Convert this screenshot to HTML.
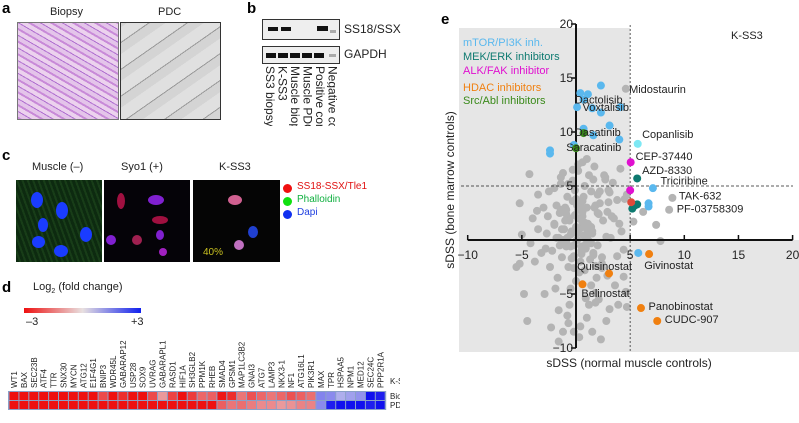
<!DOCTYPE html>
<html><head><meta charset="utf-8"><style>
body{margin:0;width:799px;height:423px;background:#fff;overflow:hidden;font-family:"Liberation Sans",sans-serif;position:relative}
.abs{position:absolute}
.lbl{position:absolute;font-weight:bold;font-size:15px}
.t{position:absolute;font-size:11px;color:#222}
</style></head><body>
<div class="lbl" style="left:2px;top:0px">a</div>
<div class="t" style="left:50px;top:6px">Biopsy</div>
<div class="t" style="left:158px;top:6px">PDC</div>
<div class="abs" style="left:17px;top:22px;width:100px;height:96px;border:1px solid #777;background:repeating-linear-gradient(30deg,#c88ad8 0 2px,#e4c4ea 2px 6px,#b070d0 6px 7px,#ecd2ee 7px 11px)"></div>
<div class="abs" style="left:120px;top:22px;width:99px;height:96px;border:1px solid #333;background:repeating-linear-gradient(-35deg,#d4d4d4 0 9px,#999 9px 10px,#e0e0e0 10px 22px)"></div>
<div class="lbl" style="left:247px;top:0px">b</div>
<div class="abs" style="left:262px;top:19px;width:76px;height:19px;border:1px solid #333;background:#eee">
<div style="position:absolute;left:5px;top:7px;width:10px;height:4px;background:#111"></div>
<div style="position:absolute;left:18px;top:7px;width:10px;height:4px;background:#111"></div>
<div style="position:absolute;left:54px;top:6px;width:11px;height:5px;background:#111"></div>
<div style="position:absolute;left:67px;top:10px;width:6px;height:3px;background:#aaa"></div></div>
<div class="abs" style="left:262px;top:46px;width:76px;height:16px;border:1px solid #333;background:#eee">
<div style="position:absolute;left:3px;top:6px;width:60px;height:5px;background:repeating-linear-gradient(90deg,#111 0 10px,#eee 10px 12px)"></div>
<div style="position:absolute;left:66px;top:7px;width:7px;height:3px;background:#aaa"></div></div>
<div class="t" style="left:344px;top:22px;font-size:12px">SS18/SSX</div>
<div class="t" style="left:344px;top:47px;font-size:12px">GAPDH</div>
<div id="blanes"></div>
<div class="lbl" style="left:2px;top:147px">c</div>
<div class="t" style="left:32px;top:161px">Muscle (–)</div>
<div class="t" style="left:121px;top:161px">Syo1 (+)</div>
<div class="t" style="left:219px;top:161px">K-SS3</div>
<div class="abs" style="left:16px;top:180px;width:86px;height:82px;background:repeating-linear-gradient(70deg,#0d2a10 0 3px,#183d18 3px 5px)">
<div style="position:absolute;left:40px;top:22px;width:12px;height:17px;border-radius:50%;background:#1a3cff"></div>
<div style="position:absolute;left:15px;top:12px;width:12px;height:16px;border-radius:50%;background:#1a3cff"></div>
<div style="position:absolute;left:22px;top:38px;width:10px;height:14px;border-radius:50%;background:#1a3cff"></div>
<div style="position:absolute;left:64px;top:47px;width:12px;height:15px;border-radius:50%;background:#1a3cff"></div>
<div style="position:absolute;left:16px;top:56px;width:13px;height:12px;border-radius:50%;background:#1a3cff"></div>
<div style="position:absolute;left:38px;top:65px;width:14px;height:12px;border-radius:50%;background:#1a3cff"></div></div>
<div class="abs" style="left:104px;top:180px;width:86px;height:82px;background:#050308">
<div style="position:absolute;left:13px;top:13px;width:8px;height:16px;border-radius:50%;background:#a01040"></div>
<div style="position:absolute;left:44px;top:15px;width:16px;height:10px;border-radius:50%;background:#8020d0"></div>
<div style="position:absolute;left:48px;top:36px;width:16px;height:8px;border-radius:50%;background:#a01040"></div>
<div style="position:absolute;left:2px;top:55px;width:10px;height:10px;border-radius:50%;background:#8020d0"></div>
<div style="position:absolute;left:28px;top:55px;width:10px;height:10px;border-radius:50%;background:#a02050"></div>
<div style="position:absolute;left:52px;top:50px;width:8px;height:10px;border-radius:50%;background:#8020d0"></div>
<div style="position:absolute;left:55px;top:68px;width:8px;height:8px;border-radius:50%;background:#a020c0"></div></div>
<div class="abs" style="left:193px;top:180px;width:87px;height:82px;background:#050505">
<div style="position:absolute;left:35px;top:15px;width:14px;height:10px;border-radius:50%;background:#d06090"></div>
<div style="position:absolute;left:55px;top:46px;width:10px;height:12px;border-radius:50%;background:#2040d0"></div>
<div style="position:absolute;left:41px;top:60px;width:10px;height:10px;border-radius:50%;background:#c070c0"></div>
<div style="position:absolute;left:10px;top:67px;font-size:10px;color:#c8c020">40%</div></div>
<div class="abs" style="left:283px;top:184px;width:9px;height:9px;border-radius:50%;background:#f01010"></div>
<div class="t" style="left:297px;top:181px;color:#e01010;font-size:10px">SS18-SSX/Tle1</div>
<div class="abs" style="left:283px;top:197px;width:9px;height:9px;border-radius:50%;background:#10e010"></div>
<div class="t" style="left:297px;top:194px;color:#10b040;font-size:10px">Phalloidin</div>
<div class="abs" style="left:283px;top:210px;width:9px;height:9px;border-radius:50%;background:#1030f0"></div>
<div class="t" style="left:297px;top:207px;color:#2040e0;font-size:10px">Dapi</div>
<div class="lbl" style="left:2px;top:279px">d</div>
<div class="t" style="left:33px;top:281px;font-size:11px">Log<sub style="font-size:7px">2</sub> (fold change)</div>
<div class="abs" style="left:24px;top:308px;width:117px;height:5px;background:linear-gradient(90deg,#ee1010,#e8e0e0,#1020ee)"></div>
<div class="t" style="left:26px;top:316px">–3</div>
<div class="t" style="left:131px;top:316px">+3</div>
<svg id="heat" class="abs" style="left:0;top:330px" width="400" height="93"></svg>
<div class="lbl" style="left:441px;top:11px">e</div>
<svg id="sc" class="abs" style="left:0;top:0" width="799" height="423"></svg>
<script>
const NS="http://www.w3.org/2000/svg";
function mk(p,tag,a){const e=document.createElementNS(NS,tag);for(const k in a)e.setAttribute(k,a[k]);p.appendChild(e);return e;}
const laneNames=["SS3 biopsy","K-SS3","Muscle biopsy","Muscle PDC","Positive control","Negative control"];
const bl=document.getElementById('blanes');
laneNames.forEach((n,i)=>{const d=document.createElement('div');


d.className='t';d.style.cssText=`left:${264+i*12.5}px;top:66px;writing-mode:vertical-rl;font-size:12px;height:60px;overflow:hidden;line-height:12px;white-space:nowrap`;d.textContent=n;bl.appendChild(d);});
const genes=["WT1","BAX","SEC23B","ATF4","TTR","SNX30","MYCN","ATG12","E1F4G1","BNIP3","WDR45L","GABARAP12","USP28","SOX9","UVRAG","GABARAPL1","RASD1","HIF1A","SH3GLB2","PPM1K","RHEB","SMAD4","GPSM1","MAP1LC3B2","GNAI3","ATG7","LAMP3","NKX3-1","NF1","ATG16L1","PIK3R1","MAX","TPR","HSPAA5","NPM1","MED12","SEC24C","PPP2R1A"];
const biopsyVals=[-3,-3,-3,-3,-3,-3,-3,-3,-3,-2.2,-3,-2.6,-3,-3,-2.2,-1.1,-2.3,-3,-2.4,-1.8,-1.9,-2.9,-2.6,-1.6,-2.1,-1.8,-1.6,-1.8,-2.1,-1.9,-1.7,1.4,1.3,0.8,1.0,1.2,3,2.8];
const pdcVals=[-3,-3,-3,-3,-3,-3,-3,-3,-3,-3,-3,-3,-3,-3,-3,-3,-3,-3,-3,-3,-3,-1.9,-1.6,-1.7,-1.5,-1.3,-1.3,-1.1,-1.2,-1.4,-1.4,1.3,2.8,3,3,3,2.8,3];
function col(v){const t=Math.max(-1,Math.min(1,v/3));let a,b,f;if(t<0){a=[232,232,236];b=[238,16,16];f=-t;}else{a=[232,232,236];b=[16,16,238];f=t;}
return `rgb(${a.map((c,i)=>Math.round(c+(b[i]-c)*f)).join(',')})`;}
const H=document.getElementById('heat');const cx0=9,cw=9.9,ry=[62,71];
mk(H,'rect',{x:cx0-1,y:61,width:genes.length*cw+2,height:19,fill:'#8aa0c8'});
genes.forEach((g,i)=>{
 const x=cx0+i*cw;
 let r=mk(H,'rect',{x:x+0.5,y:ry[0],width:cw-1,height:8,fill:col(biopsyVals[i])});
 r=mk(H,'rect',{x:x+0.5,y:ry[1],width:cw-1,height:8,fill:col(pdcVals[i])});
 const t=mk(H,'text',{x:0,y:0,'font-size':8,fill:'#222',transform:`translate(${x+cw/2+3},58) rotate(-90)`});t.textContent=g;});
[["K-SS3",54],["Biopsy",69],["PDC",78]].forEach(([s,y])=>{const t=mk(H,'text',{x:390,y:y,'font-size':8,fill:'#222'});t.textContent=s;});
// scatter data
const grayX=[4.6,8.9,8.6,7.4,7.8,6.2,5.3,-1.5,-2,-1,0.5,1,2,-0.5,0,0.3,-0.8,1.5,-1.8,2.5,-3.5,-4,-5,-3,-2.5,3,3.5,4,2.2,1.2,-0.3,0.8,-1.2,0.2,1.8,-0.6,0.6,-1.5,1.4,-2.2,2.8,-0.2,0.4,0.9,-0.9,0.1,1.1,-0.4,0.7,-1.1,1.6,-0.7,0.3,-0.1,0.5,1.3,-1.3,2,-2.8,3.2,-3.2,4.2,-4.2,2.4,-1.7,0,0.8,-0.5,1.9,-2.4,3.8,-3.8,1,0.2,-0.3,0.6,1.7,-1.4,2.6,-2,3.4,4.5,-5.2,-4.8,-5.5,-2.9,-1.9,-0.6,1.2,2.1,3.6,4.4,0.4,-1.6,1.5,-0.8,2.8,3.9,0.3,-0.2,-4.5,-1.2,1,2.3,3.1,4.6,1.8,0.6,-0.9,-2.7,2.2,3.3,4.7,-3.5,-1.4,0.1,1.4,2.7,3.8,-0.4,2.9,1.6,4.1,-5.2,-4.3,-3.6,3.1,1.4,2.9,0.5,1.8,4.7,-0.7,0.9,2.4,-2.3,4.4,-1.6,
-0.2,0.3,0.8,1.2,-0.6,-1.0,0.1,0.6,1.0,-0.3,0.4,0.9,-0.8,1.4,-1.3,0.2,0.7,-0.1,1.1,-0.5,0.5,1.6,-0.9,0.0,1.3,-1.6,0.9,-0.4,2.1,-2.0,0.3,1.8,-1.2,0.6,-0.7,2.4,1.5,-1.8,0.8,-0.2,2.7,-2.6,1.0,0.2,3.0,-0.9,1.7,-1.4,0.5,2.0];
const grayY=[14,3.9,2.8,1.4,-0.1,2.6,1.7,2.5,1.5,3,2,1,2.5,0.5,1.2,3.5,4,0.8,0.2,1.8,1,2,0.5,3,4.5,3.5,2,1.5,4.5,6,5.5,5,6.2,2.8,3.2,1.8,2.2,-0.5,-0.3,-1,0.3,-1.5,-2,-0.8,-0.2,0,1.5,0.8,0.4,1,-1.2,-2.5,-3,2.3,-0.6,-1.8,-1.6,-0.5,-0.8,0.2,-1.2,0.8,-0.3,-2.2,-3.5,-3.8,-2.8,-4.5,-3.5,-2.5,-1.5,-2,7.5,7,6.5,7.2,6.8,5.8,6,4.8,5.3,3.8,-2.2,-5,-2.5,-5,-4.5,-6,-6,-5.5,-4.2,-3.4,-8,-6.5,-8.5,-7,-7.5,-6,-9,-8.5,-7.5,-8.5,-7.2,-9.2,-6.4,-4.8,-5.8,1.6,2.4,0.6,3.4,2.2,4.2,4.2,5.2,3.2,4.5,5.8,3.7,5.3,2.6,5.6,6.6,3.4,6.1,2.7,4.4,-4.2,-3.3,-1.3,-4.9,-6.2,-7.7,-5.4,-2.6,-8.1,-0.9,-9.4,-0.5,
1.0,1.4,0.6,2.0,1.8,0.6,2.6,3.0,3.6,3.2,-0.4,0.2,1.2,1.0,2.0,4.0,4.6,0.0,-0.6,-1.0,-1.4,2.8,3.8,-0.2,0.2,-0.7,-1.7,2.4,1.4,1.0,-2.4,0.0,3.6,5.2,-1.6,0.6,3.2,1.6,-2.6,5.6,2.2,-0.4,6.4,4.6,-0.6,3.0,2.8,-1.2,4.2,1.0];
const blueX=[2.3,0.4,0.7,1.1,0.1,1.5,2.3,4.1,3.1,0.7,1.6,4.0,-0.2,-2.4,-2.4,7.1,6.7,6.7,5.75];
const blueY=[14.3,13.6,13.0,13.5,12.3,12.2,11.8,12.3,10.6,10.3,9.7,9.3,8.8,8.3,8.0,4.8,3.4,3.1,-1.2];
const cyanX=[5.7],cyanY=[8.9];
const greenX=[0.7,0],greenY=[9.9,8.5];
const magX=[5.05,5.0],magY=[7.2,4.6];
const tealX=[5.65,5.2,5.45,5.65],tealY=[5.7,2.9,3.2,3.3];
const redX=[5.1],redY=[3.5];
const orangeX=[6.75,3.05,0.6,6.0,7.5],orangeY=[-1.3,-3.1,-4.1,-6.3,-7.5];
const xTicks=[-10,-5,5,10,15,20],yTicks=[-10,-5,5,10,15,20];
const drugLabels=["Midostaurin","Dactolisib","Voxtalisib","Dasatinib","Copanlisib","Saracatinib","CEP-37440","AZD-8330","Triciribine","TAK-632","PF-03758309","Quisinostat","Givinostat","Belinostat","Panobinostat","CUDC-907"];
const drugLX=[4.9,-0.1,0.6,-0.1,6.1,-0.9,5.5,6.1,7.8,9.5,9.3,0.1,6.3,0.5,6.7,8.2];
const drugLY=[14.0,13.0,12.3,10.0,9.8,8.6,7.8,6.5,5.5,4.1,2.9,-2.4,-2.3,-4.9,-6.1,-7.3];
const X=v=>576+v*10.83, Y=v=>240-v*10.8;
const S=document.getElementById('sc');
let g=mk(S,'path',{d:`M459 28 H${X(5)} V${Y(0)} H799 V352 H459Z`,fill:'#e6e6e6'});
function pts(xs,ys,c,name){xs.forEach((x,i)=>{const e=mk(S,'circle',{cx:X(x),cy:Y(ys[i]),r:4,fill:c});});}
pts(grayX,grayY,'#b4b4b4','point-other');
let l=mk(S,'line',{x1:X(5),x2:X(5),y1:25,y2:352,stroke:'#333','stroke-dasharray':'2,2','stroke-width':0.8});
l=mk(S,'line',{x1:461,x2:793,y1:Y(5),y2:Y(5),stroke:'#222','stroke-dasharray':'3,2','stroke-width':0.8});
l=mk(S,'line',{x1:X(-10),x2:X(20),y1:Y(0),y2:Y(0),stroke:'#111','stroke-width':2});
l=mk(S,'line',{x1:X(0),x2:X(0),y1:Y(20),y2:Y(-10),stroke:'#111','stroke-width':2});
pts(blueX,blueY,'#5ab8ee','point-mtor-pi3k');pts(cyanX,cyanY,'#7ee8f4','point-copanlisib');pts(greenX,greenY,'#3a8a1a','point-src-abl');
pts(magX,magY,'#e010d0','point-alk-fak');pts(tealX,tealY,'#0d7a70','point-mek-erk');pts(redX,redY,'#e04a3a','point-misc');pts(orangeX,orangeY,'#f08010','point-hdac');
xTicks.forEach(v=>{mk(S,'line',{x1:X(v),x2:X(v),y1:Y(0),y2:Y(0)-5,stroke:'#111','stroke-width':1.5});const t=mk(S,'text',{x:X(v),y:Y(0)+19,'font-size':12,'text-anchor':'middle',fill:'#222'});t.textContent=v<0?'−'+(-v):v;});
yTicks.forEach(v=>{mk(S,'line',{x1:X(0),x2:X(0)-5,y1:Y(v),y2:Y(v),stroke:'#111','stroke-width':1.5});const t=mk(S,'text',{x:X(0)-3,y:Y(v)+4,'font-size':12,'text-anchor':'end',fill:'#222'});t.textContent=v<0?'−'+(-v):v;});
drugLabels.forEach((s,i)=>{const t=mk(S,'text',{x:X(drugLX[i]),y:Y(drugLY[i])+4,'font-size':11,fill:'#222'});t.textContent=s;});
[["mTOR/PI3K inh.","#5ab8ee",46],["MEK/ERK inhibitors","#0d7a70",60],["ALK/FAK inhibitor","#e010d0",74],["HDAC inhibitors","#f08010",91],["Src/Abl inhibitors","#3a8a1a",104]].forEach(([s,c,y])=>{const t=mk(S,'text',{x:463,y:y,'font-size':11,fill:c});t.textContent=s;});
let t=mk(S,'text',{x:731,y:39,'font-size':11,fill:'#222'});t.textContent='K-SS3';
t=mk(S,'text',{x:629,y:367,'font-size':12,'text-anchor':'middle',fill:'#222'});t.textContent='sDSS (normal muscle controls)';
t=mk(S,'text',{x:0,y:0,'font-size':12,'text-anchor':'middle',fill:'#222',transform:'translate(454,190) rotate(-90)'});t.textContent='sDSS (bone marrow controls)';
</script>
</body></html>
